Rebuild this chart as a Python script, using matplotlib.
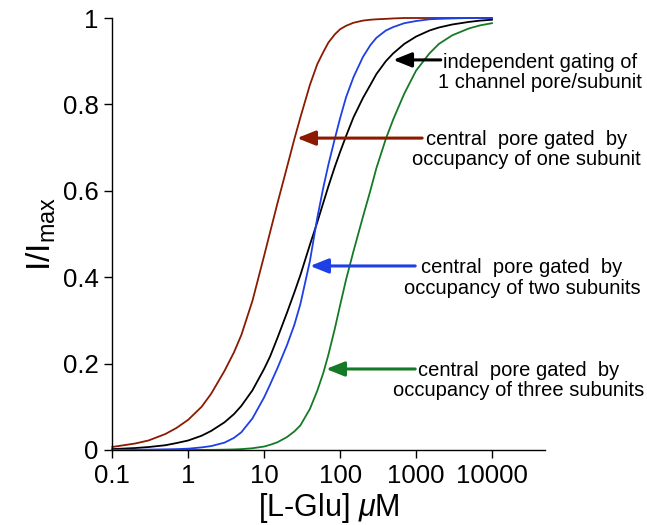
import numpy as np
import matplotlib
matplotlib.use('Agg')
import matplotlib.pyplot as plt

plt.rcParams['font.family'] = ['Liberation Sans', 'DejaVu Sans']
plt.rcParams['mathtext.fontset'] = 'custom'
plt.rcParams['mathtext.rm'] = 'Liberation Sans'
plt.rcParams['mathtext.it'] = 'Liberation Sans:italic'

''' DADOS (lidos da figura) '''
# concentração de L-Glu (uM)
glu = [0.1, 0.2, 0.3, 0.5, 0.7, 1, 1.5, 2, 3, 4, 5, 7, 10, 12, 15, 20, 25, 30,
       40, 50, 60, 70, 85, 100, 120, 150, 200, 250, 300, 400, 500, 700,
       1000, 1500, 2000, 3000, 5000, 7000, 10000]

# central pore gated by occupancy of one subunit
one_sub = [0.007, 0.015, 0.022, 0.037, 0.051, 0.07, 0.1, 0.13, 0.183, 0.226, 0.266,
           0.345, 0.45, 0.505, 0.572, 0.655, 0.72, 0.77, 0.845, 0.893, 0.921, 0.943,
           0.962, 0.974, 0.982, 0.989, 0.994, 0.996, 0.997, 0.998, 0.999, 1.0,
           1.0, 1.0, 1.0, 1.0, 1.0, 1.0, 1.0]

# independent gating of 1 channel pore/subunit
indep = [0.002, 0.0045, 0.0068, 0.011, 0.016, 0.022, 0.033, 0.044, 0.064, 0.083,
         0.102, 0.138, 0.188, 0.217, 0.26, 0.318, 0.365, 0.405, 0.475, 0.527, 0.572,
         0.61, 0.655, 0.69, 0.727, 0.77, 0.815, 0.845, 0.87, 0.9, 0.918, 0.94,
         0.957, 0.971, 0.978, 0.985, 0.991, 0.994, 0.996]

# central pore gated by occupancy of two subunits
two_sub = [0.0003, 0.0006, 0.0009, 0.0015, 0.002, 0.003, 0.006, 0.009, 0.017, 0.028,
           0.041, 0.073, 0.122, 0.152, 0.19, 0.243, 0.29, 0.338, 0.437, 0.537, 0.607,
           0.66, 0.72, 0.768, 0.817, 0.863, 0.91, 0.937, 0.954, 0.971, 0.979, 0.988,
           0.993, 0.997, 0.998, 0.999, 1.0, 1.0, 1.0]

# central pore gated by occupancy of three subunits
three_sub = [0.0, 0.0, 0.0, 0.0, 0.0, 0.0001, 0.0002, 0.0003, 0.0008, 0.0013,
             0.002, 0.004, 0.008, 0.012, 0.018, 0.03, 0.043, 0.057, 0.095, 0.137,
             0.178, 0.22, 0.28, 0.335, 0.395, 0.46, 0.54, 0.6, 0.652, 0.72, 0.765,
             0.825, 0.878, 0.918, 0.94, 0.96, 0.976, 0.983, 0.988]

x_ticks = [0.1, 1, 10, 100, 1000, 10000]
x_tick_labels = ['0.1', '1', '10', '100', '1000', '10000']
y_ticks = [0, 0.2, 0.4, 0.6, 0.8, 1]
y_tick_labels = ['0', '0.2', '0.4', '0.6', '0.8', '1']

red = '#8b1a00'
blue = '#1f3fe6'
green = '#157a25'

fig = plt.figure(figsize=(6.47, 5.25), dpi=100)
ax = fig.add_axes([0.1736, 0.1429, 0.6688, 0.8228])

ax.plot(glu, one_sub, color=red, lw=1.3, clip_on=False)
ax.plot(glu, indep, color='black', lw=1.3, clip_on=False)
ax.plot(glu, two_sub, color=blue, lw=1.3, clip_on=False)
ax.plot(glu, three_sub, color=green, lw=1.3, clip_on=False)

ax.set_xscale('log')
ax.set_xlim(0.1, 5e4)
ax.set_ylim(0, 1)
ax.set_xticks(x_ticks)
ax.set_xticklabels(x_tick_labels)
ax.set_yticks(y_ticks)
ax.set_yticklabels(y_tick_labels)
ax.minorticks_off()
ax.tick_params(direction='out', length=6, width=1, labelsize=18.5, pad=4)
for s in ['top', 'right']:
    ax.spines[s].set_visible(False)
for s in ['left', 'bottom']:
    ax.spines[s].set_linewidth(1)

ax.set_ylabel('I/I$_{\\mathrm{max}}$', fontsize=24, labelpad=3)
ax.set_xlabel('[L-Glu] $\\mu$M', fontsize=22, labelpad=2)

''' ANOTAÇÕES '''
notes = [
    ('independent gating of\n1 channel pore/subunit', 'black', (0.988, 0.874), (0.759, 0.903), (0.649, 0.903)),
    ('central  pore gated  by\noccupancy of one subunit', red, (0.958, 0.695), (0.716, 0.722), (0.427, 0.722)),
    ('central  pore gated  by\noccupancy of two subunits', blue, (0.947, 0.398), (0.700, 0.426), (0.457, 0.426)),
    ('central  pore gated  by\noccupancy of three subunits', green, (0.938, 0.160), (0.700, 0.1875), (0.494, 0.1875)),
]
for txt, c, pos, tail, tip in notes:
    ax.text(pos[0], pos[1], txt, transform=ax.transAxes, ha='center', va='center',
            fontsize=14.5, linespacing=1.08, multialignment='center')
    ax.annotate('', xy=tip, xytext=tail, xycoords='axes fraction', textcoords='axes fraction',
                arrowprops=dict(arrowstyle='-|>,head_length=0.55,head_width=0.22',
                                color=c, lw=2.2, mutation_scale=20, shrinkA=0, shrinkB=0))

fig.savefig('out.png', dpi=100)
